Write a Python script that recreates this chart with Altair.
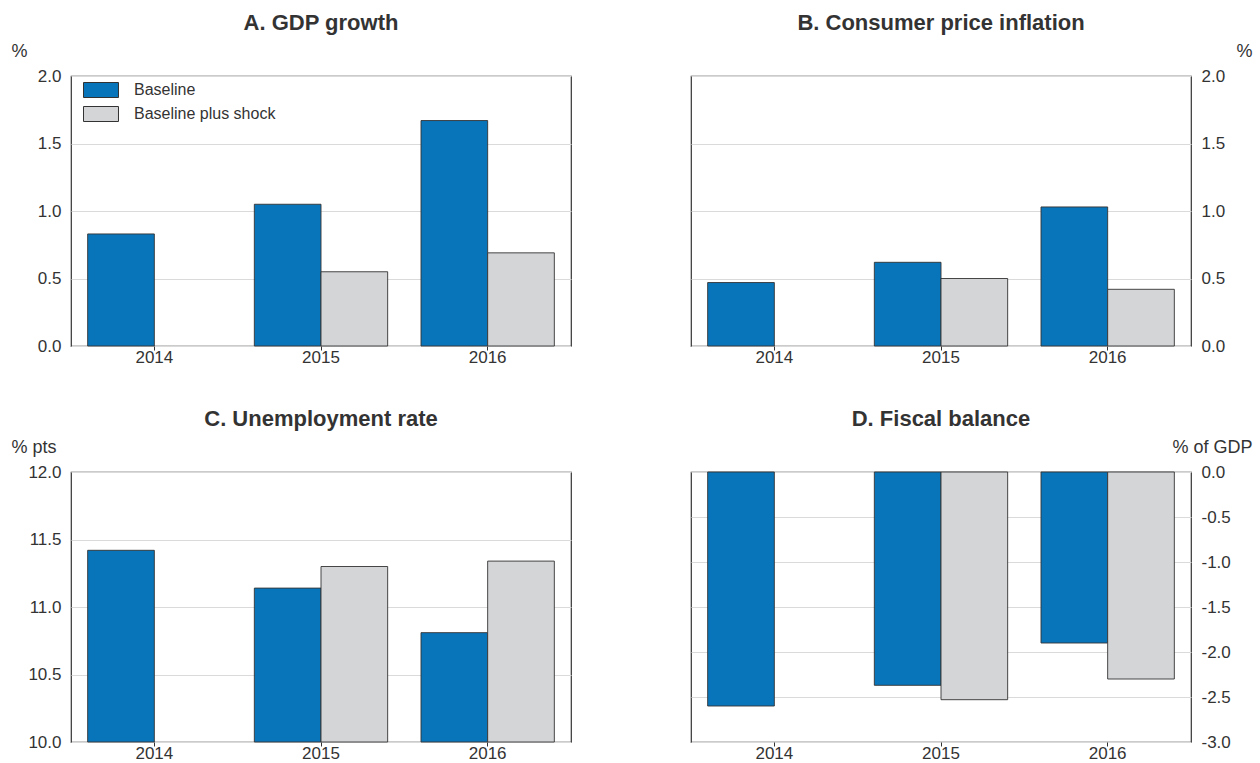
import altair as alt
import pandas as pd

years = ["2014", "2015", "2016"]
series = ["Baseline", "Baseline plus shock"]
colors = ["#0875BA", "#D4D5D7"]

gdp_base = [0.83, 1.05, 1.67]
gdp_shock = [None, 0.55, 0.69]
cpi_base = [0.47, 0.62, 1.03]
cpi_shock = [None, 0.50, 0.42]
unemp_base = [11.42, 11.14, 10.81]
unemp_shock = [None, 11.30, 11.34]
fiscal_base = [-2.60, -2.37, -1.90]
fiscal_shock = [None, -2.53, -2.30]

ticks_ab = [0.0, 0.5, 1.0, 1.5, 2.0]
ticks_c = [10.0, 10.5, 11.0, 11.5, 12.0]
ticks_d = [-3.0, -2.5, -2.0, -1.5, -1.0, -0.5, 0.0]

FONT = "Liberation Sans"
TXT = "#333333"
W, H = 500, 270
LABEL_EXPR = "(datum.value < 0 ? '-' : '') + format(abs(datum.value), '.1f')"


def make_df(base_vals, shock_vals, base_level):
    rows = []
    for y, b, s in zip(years, base_vals, shock_vals):
        if b is not None:
            rows.append({"year": y, "series": series[0], "value": b, "base": base_level})
        if s is not None:
            rows.append({"year": y, "series": series[1], "value": s, "base": base_level})
    return pd.DataFrame(rows)


def panel(title, base_vals, shock_vals, domain, base_level, ticks, orient, unit, legend=False):
    df = make_df(base_vals, shock_vals, base_level)
    common = dict(
        values=ticks, labelExpr=LABEL_EXPR, ticks=False, domain=False,
        grid=True, gridColor="#DADADA", gridWidth=1,
        labelFont=FONT, labelFontSize=17, labelColor=TXT, labelPadding=10,
        title=unit, titleAngle=0, titleBaseline="bottom", titleY=-16,
        titleFont=FONT, titleFontSize=18, titleFontWeight="normal", titleColor=TXT,
    )
    if orient == "left":
        yaxis = alt.Axis(orient="left", titleAlign="left", titleX=-60, **common)
    else:
        yaxis = alt.Axis(orient="right", titleAlign="right", titleX=61, **common)
    if legend:
        leg = alt.Legend(
            title=None, orient="none", legendX=22, legendY=6, padding=0,
            symbolType="M -2.333,-1 L 2.333,-1 L 2.333,1 L -2.333,1 Z",
            symbolSize=225, symbolStrokeColor="#333333", symbolStrokeWidth=1,
            symbolOpacity=1, labelFont=FONT, labelFontSize=16, labelColor=TXT,
            labelOffset=25, rowPadding=4, direction="vertical",
        )
    else:
        leg = None
    bars = alt.Chart(df).mark_bar(stroke="#333333", strokeWidth=0.9, opacity=1).encode(
        x=alt.X(
            "year:N", sort=years, title=None,
            scale=alt.Scale(domain=years, paddingInner=0.2, paddingOuter=0.1),
            axis=alt.Axis(labelAngle=0, domain=False, ticks=True, tickSize=4,
                          tickColor="#333333", labelFont=FONT, labelFontSize=17,
                          labelColor=TXT, labelPadding=-1, grid=False),
        ),
        xOffset=alt.XOffset("series:N", scale=alt.Scale(domain=series, paddingInner=0, paddingOuter=0)),
        y=alt.Y("value:Q", scale=alt.Scale(domain=domain, nice=False, zero=False), axis=yaxis),
        y2=alt.Y2("base:Q"),
        color=alt.Color("series:N", scale=alt.Scale(domain=series, range=colors), legend=leg),
    ).properties(
        width=W, height=H,
        title=alt.TitleParams(title, font=FONT, fontSize=22, fontWeight="bold",
                              color=TXT, anchor="middle", frame="group", offset=7),
    )
    return bars


pA = panel("A. GDP growth", gdp_base, gdp_shock, [0, 2], 0, ticks_ab, "left", "%", legend=True)
pB = panel("B. Consumer price inflation", cpi_base, cpi_shock, [0, 2], 0, ticks_ab, "right", "%")
pC = panel("C. Unemployment rate", unemp_base, unemp_shock, [10, 12], 10, ticks_c, "left", "% pts")
pD = panel("D. Fiscal balance", fiscal_base, fiscal_shock, [-3, 0], 0, ticks_d, "right", "% of GDP")

top = alt.hconcat(pA, pB, spacing=118).resolve_scale(color="independent")
bottom = alt.hconcat(pC, pD, spacing=118).resolve_scale(color="independent")
chart = alt.vconcat(top, bottom, spacing=41).resolve_scale(color="independent").properties(
    padding={"left": 10, "top": 11, "right": 5, "bottom": 0},
    background="white",
).configure_view(stroke="#333333", strokeWidth=1.2)

chart.save("out.html", embed_options={"renderer": "svg", "actions": False})
